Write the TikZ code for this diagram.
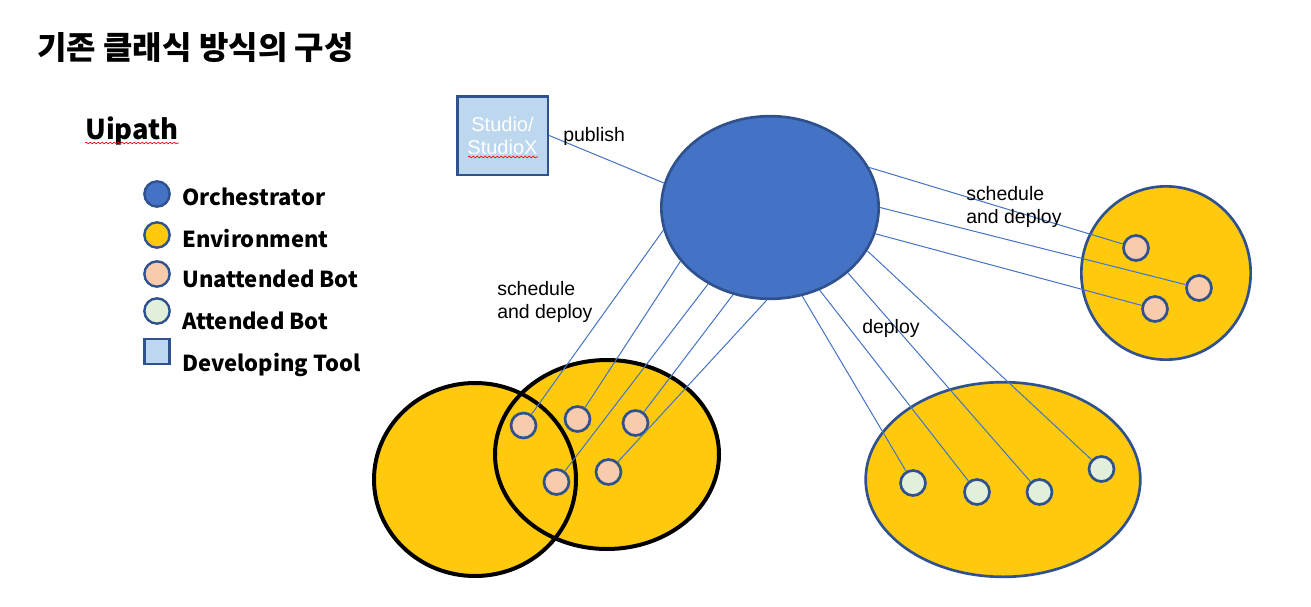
\documentclass[tikz,border=0pt]{standalone}
\usepackage{fontspec}
\setmainfont{Liberation Sans}
\newfontfamily\cjk{Noto Sans CJK KR}
\usepackage{tikz}
\usetikzlibrary{shapes.geometric,decorations.pathmorphing}

\definecolor{orchblue}{HTML}{4472C4}
\definecolor{edgeblue}{HTML}{2F528F}
\definecolor{envyellow}{HTML}{FFC90E}
\definecolor{botpeach}{HTML}{F8CBAD}
\definecolor{botgreen}{HTML}{E2EFDA}
\definecolor{toolblue}{HTML}{BDD7EE}

\begin{document}
\begin{tikzpicture}[x=0.75pt,y=-0.75pt,
    ubot/.style={circle,draw=edgeblue,line width=2pt,fill=botpeach,minimum size=18.75pt,inner sep=0pt},
    abot/.style={ubot,fill=botgreen},
    env/.style={ellipse,draw=edgeblue,line width=2pt,fill=envyellow,inner sep=0pt},
    icon/.style={circle,draw=edgeblue,line width=1.8pt,minimum size=19pt,inner sep=0pt},
    link/.style={orchblue,line width=0.75pt},
    lbl/.style={font=\fontsize{14.6}{17.3}\selectfont,align=left,inner sep=0pt,anchor=west},
    legtxt/.style={font=\cjk\bfseries\fontsize{16.5}{19}\selectfont,anchor=base west,inner sep=0pt},
    squiggle/.style={red,line width=0.5pt,decorate,decoration={snake,amplitude=0.6pt,segment length=3pt}}]
\useasboundingbox (0,0) rectangle (1311,607);

% title and legend
\node[font=\cjk\bfseries\fontsize{24}{28}\selectfont,anchor=west,inner sep=0pt] (title) at (37,48) {기존 클래식 방식의 구성};
\node[font=\cjk\bfseries\fontsize{20.5}{24}\selectfont,anchor=base west,inner sep=0pt] (uipath) at (85,139) {Uipath};
\draw[squiggle] ([yshift=-3pt]uipath.base west) -- ([yshift=-3pt]uipath.base east);
\foreach \i/\yc/\yb/\col/\txt in {1/194/205/orchblue/Orchestrator,2/235/247/envyellow/Environment,
    3/274/287/botpeach/Unattended Bot,4/311/329/botgreen/Attended Bot} {
  \node[icon,fill=\col] (icon\i) at (157,\yc) {};
  \node[legtxt] (leg\i) at (182,\yb) {\txt};
}
\node[icon,rectangle,fill=toolblue] (icon5) at (157,351.5) {};
\node[legtxt] (leg5) at (182,371) {Developing Tool};

% environments
\node[env,minimum width=127pt,minimum height=130pt] (envS) at (1166,273) {};
\node[env,minimum width=206pt,minimum height=146pt] (envA) at (1003,479.5) {};
\node[env,draw=none,minimum width=151.5pt,minimum height=144.75pt] (envL) at (475,479.5) {};
\node[env,draw=none,minimum width=168pt,minimum height=141.75pt] (envR) at (607,454.5) {};
\draw[line width=3pt] (envL) ellipse [x radius=101,y radius=96.5];
\draw[line width=3pt] (envR) ellipse [x radius=112,y radius=94.5];

% orchestrator and studio
\node[ellipse,draw=edgeblue,line width=2pt,fill=orchblue,minimum width=163pt,minimum height=137pt,inner sep=0pt] (orch) at (770,207.5) {};
\node[rectangle,draw=edgeblue,line width=2pt,fill=toolblue,minimum width=68pt,minimum height=59pt,
    text=white,align=center,font=\fontsize{15}{17.3}\selectfont] (studio) at (502.5,135.5) {Studio/\\StudioX};
\draw[squiggle] ([shift={(-34.5,21.5)}]studio.center) -- ([shift={(35.5,21.5)}]studio.center);

% bots
\foreach \n/\x/\y in {u1/523.5/425.5,u2/577.5/419,u3/635.5/423,u4/556.5/482,u5/608.5/472,
    r1/1136/248,r2/1199/288,r3/1155/309}
  \node[ubot] (\n) at (\x,\y) {};
\foreach \n/\x/\y in {a1/913/483,a2/977/492,a3/1039.5/492,a4/1101.5/469}
  \node[abot] (\n) at (\x,\y) {};

% links
\draw[link] (studio.east) -- (orch.167);
\foreach \a/\b in {192.6/u1,211/u2,231/u4,247/u3,268.8/u5,22.5/r1,0/r2,346.6/r3,
    290/a1,301.5/a2,320/a3,336.8/a4}
  \draw[link] (orch.\a) -- (\b);

% labels
\node[lbl] (pub) at (563,136) {publish};
\node[lbl] (sd1) at (966,207) {schedule\\and deploy};
\node[lbl] (sd2) at (497,302) {schedule\\and deploy};
\node[lbl] (dep) at (862,328) {deploy};
\end{tikzpicture}
\end{document}
